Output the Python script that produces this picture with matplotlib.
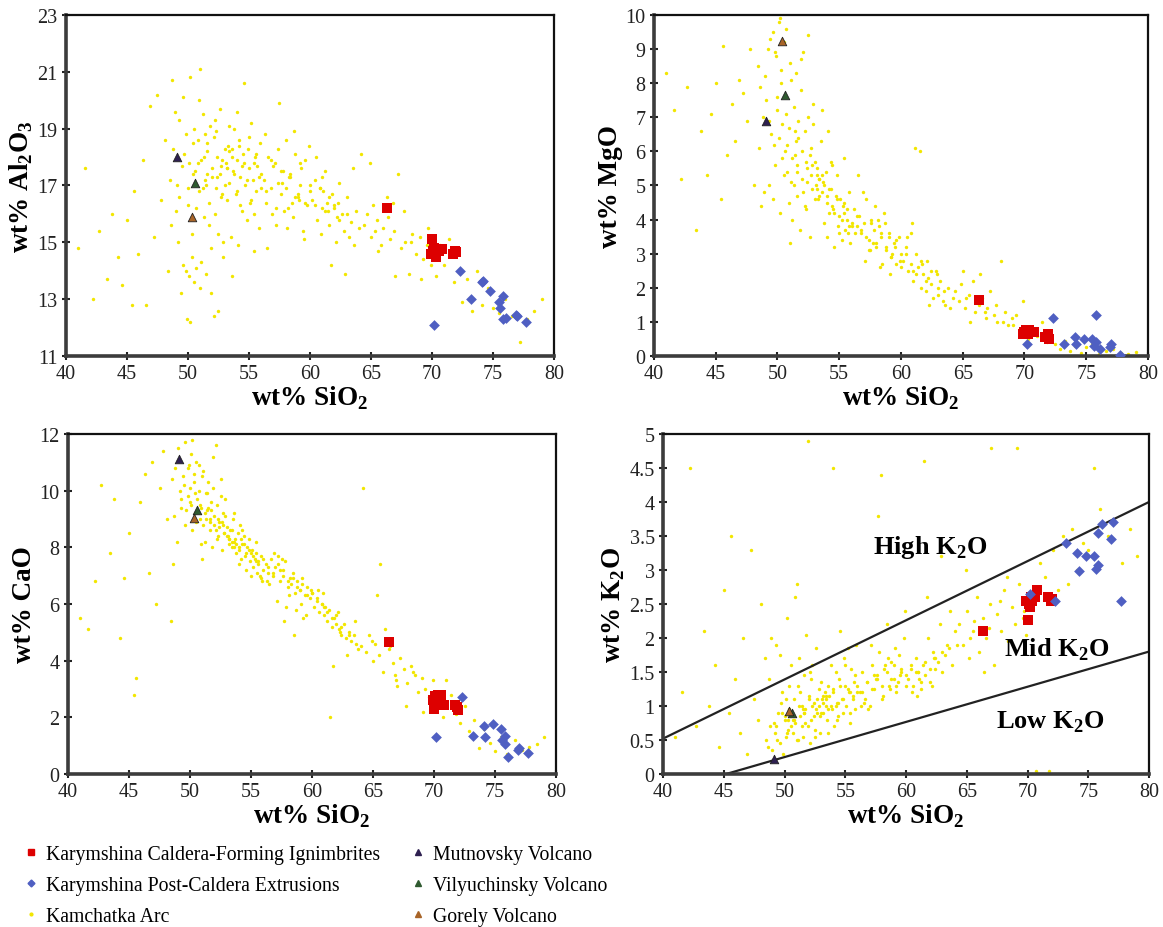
import matplotlib.pyplot as plt
from matplotlib.lines import Line2D

plt.rcParams['font.family'] = ['Liberation Serif', 'DejaVu Serif']
plt.rcParams['mathtext.fontset'] = 'custom'
plt.rcParams['mathtext.rm'] = 'Liberation Serif'
plt.rcParams['mathtext.bf'] = 'Liberation Serif:bold'

# Kamchatka Arc whole-rock analyses (wt%)
arc_sio2 = [
    41.0, 41.6, 42.2, 42.7, 43.4, 43.8, 44.3, 44.6, 45.0, 45.4,
    45.6, 45.9, 46.3, 46.6, 46.9, 47.2, 47.5, 47.8, 48.1, 48.4,
    48.5, 48.7, 48.8, 49.0, 49.2, 49.3, 49.5, 49.6, 49.8, 49.9,
    50.0, 50.1, 50.2, 50.3, 50.4, 50.5, 48.6, 49.1, 49.4, 49.7,
    50.0, 50.2, 50.4, 48.9, 49.3, 49.8, 50.1, 50.3, 49.6, 50.5,
    50.6, 50.7, 50.8, 50.9, 51.0, 51.1, 51.2, 51.3, 51.4, 51.5,
    51.6, 51.7, 51.8, 51.9, 52.0, 52.1, 52.2, 52.3, 52.4, 52.5,
    52.6, 52.7, 52.8, 52.9, 53.0, 50.7, 50.9, 51.1, 51.3, 51.5,
    51.7, 51.9, 52.1, 52.3, 52.5, 52.7, 52.9, 51.0, 51.6, 52.2,
    53.1, 53.2, 53.3, 53.4, 53.5, 53.6, 53.7, 53.8, 53.9, 54.0,
    54.1, 54.2, 54.3, 54.4, 54.5, 54.6, 54.7, 54.8, 54.9, 55.0,
    55.1, 55.2, 55.3, 55.4, 55.5, 55.6, 55.7, 55.8, 55.9, 56.0,
    53.2, 53.4, 53.6, 53.8, 54.0, 54.3, 54.6, 55.0, 55.4, 55.8,
    56.2, 56.4, 56.6, 56.8, 57.0, 57.2, 57.4, 57.6, 57.8, 58.0,
    58.2, 58.4, 58.6, 58.8, 59.0, 59.2, 59.4, 59.6, 59.8, 60.0,
    56.5, 57.1, 57.5, 57.9, 58.3, 58.7, 59.1, 59.5, 59.9, 56.9,
    57.7, 58.5, 59.3, 58.1, 56.3,
    60.2, 60.4, 60.6, 60.8, 61.0, 61.2, 61.4, 61.6, 61.8, 62.0,
    62.2, 62.4, 62.6, 62.8, 63.0, 63.2, 63.4, 63.6, 63.8, 64.0,
    60.5, 61.1, 61.7, 62.3, 62.9, 63.5, 60.9, 61.5, 62.1, 64.2,
    64.4, 64.7, 65.0, 65.2, 65.5, 65.8, 66.0, 66.3, 66.6, 66.9,
    67.2, 67.5, 67.8, 68.1, 68.4, 68.7, 69.0, 69.3, 69.6, 69.9,
    64.9, 65.6, 66.4, 67.0, 67.7, 68.3, 69.1, 69.7, 65.3, 66.8,
    70.3, 70.7, 71.0, 71.4, 71.8, 72.1, 72.5, 72.9, 73.3, 73.7,
    74.1, 74.6, 75.0, 75.5, 76.0, 76.6, 77.2, 77.8, 78.4, 79.0,
    50.8, 51.2, 51.6, 52.0, 52.4, 52.8, 53.2, 53.6, 54.0, 54.4,
    54.8, 55.2, 55.6, 56.0, 56.4, 56.8, 57.2, 57.6, 58.0, 58.4,
    58.8, 59.2, 59.6, 60.0, 60.4, 60.8, 61.2, 61.6, 62.0, 62.4,
    51.4, 52.6, 53.4, 53.0, 54.2, 55.4, 57.4, 59.0, 61.0, 63.0,
]
arc_al2o3 = [
    14.8, 17.6, 13.0, 15.4, 13.7, 16.0, 14.5, 13.5, 15.8, 12.8,
    16.8, 14.6, 17.9, 12.8, 19.8, 15.2, 20.2, 16.5, 18.6, 14.0,
    17.2, 20.7, 18.3, 16.1, 15.0, 19.3, 17.7, 14.2, 18.8, 12.3,
    16.9, 13.8, 20.8, 14.5, 17.4, 19.0, 15.6, 17.0, 13.2, 18.1,
    16.3, 12.2, 18.5, 19.6, 16.6, 14.0, 17.8, 15.3, 20.1, 13.6,
    17.5, 14.1, 18.6, 16.8, 13.4, 17.9, 19.5, 15.9, 17.2, 13.9,
    18.2, 16.4, 19.1, 14.8, 17.6, 12.4, 16.0, 18.9, 17.3, 15.3,
    19.7, 16.6, 17.9, 14.5, 18.3, 16.2, 20.0, 14.3, 18.0, 17.0,
    15.6, 13.2, 18.7, 16.9, 12.6, 17.7, 15.0, 21.1, 17.4, 19.3,
    17.8, 16.5, 18.4, 17.1, 15.2, 18.0, 17.5, 19.0, 16.7, 17.9,
    14.9, 18.6, 17.3, 16.1, 18.1, 20.6, 17.0, 15.8, 18.3, 17.6,
    16.4, 19.2, 17.2, 14.7, 18.0, 16.8, 17.7, 15.5, 18.5, 16.9,
    17.6, 18.2, 13.8, 17.4, 19.6, 16.3, 17.8, 18.7, 16.0, 17.3,
    17.2, 16.4, 18.0, 16.9, 17.7, 15.6, 18.3, 16.7, 17.5, 18.6,
    16.2, 17.4, 15.9, 18.1, 16.6, 17.0, 15.4, 17.9, 16.3, 16.8,
    14.8, 17.8, 19.9, 16.1, 17.3, 18.9, 16.5, 15.1, 18.4, 16.0,
    17.1, 16.4, 17.6, 15.5, 18.8,
    16.5, 17.2, 15.8, 16.9, 16.2, 17.5, 16.4, 15.6, 16.7, 16.3,
    15.9, 17.1, 16.0, 15.4, 16.6, 15.2, 15.7, 14.9, 16.1, 15.5,
    18.0, 16.8, 14.2, 16.4, 13.9, 17.6, 15.3, 16.1, 15.0, 18.1,
    15.6, 16.0, 15.2, 16.3, 15.8, 14.9, 15.5, 16.6, 15.1, 15.4,
    17.4, 14.8, 15.0, 13.9, 15.3, 14.6, 15.2, 14.4, 14.9, 14.2,
    17.8, 14.7, 15.9, 13.8, 16.1, 15.0, 13.7, 15.5, 15.4, 16.4,
    13.8, 14.9, 14.2, 15.1, 13.6, 14.6, 12.9, 13.7, 12.6, 14.0,
    12.8, 13.4, 12.7, 12.5, 13.0, 12.4, 11.5, 12.3, 12.6, 13.0,
    17.8, 16.9, 18.5, 17.3, 18.0, 16.7, 17.6, 18.3, 16.8, 17.7,
    17.2, 16.5, 18.1, 17.4, 16.8, 17.9, 16.2, 17.5, 16.9, 17.3,
    16.6, 17.8, 16.4, 17.0, 16.3, 16.9, 16.1, 16.6, 16.2, 15.8,
    18.8, 17.4, 19.1, 17.0, 18.4, 17.8, 17.1, 16.7, 17.3, 16.0,
]
arc_mgo = [
    8.3, 7.2, 5.2, 7.9, 3.7, 6.6, 5.3, 7.1, 8.0, 4.6,
    9.1, 5.9, 7.4, 6.3, 8.1, 7.7, 6.9, 9.0, 5.0, 8.5,
    6.1, 4.4, 7.0, 8.2, 9.0, 5.0, 6.5, 9.5, 5.6, 8.8,
    7.2, 9.8, 4.2, 8.4, 6.8, 5.3, 7.9, 7.5, 9.3, 6.2,
    7.6, 9.9, 5.8, 4.8, 6.9, 8.9, 6.4, 8.0, 4.6, 9.2,
    6.0, 9.6, 5.4, 6.7, 8.6, 5.1, 4.0, 7.3, 5.9, 8.3,
    4.7, 6.4, 3.7, 7.8, 5.2, 8.9, 6.6, 4.3, 5.5, 7.0,
    3.5, 6.1, 4.9, 7.4, 4.6, 7.1, 4.5, 8.1, 5.0, 6.3,
    6.9, 8.7, 4.8, 5.7, 9.4, 5.3, 6.8, 3.3, 5.6, 4.4,
    5.0, 5.5, 4.6, 5.2, 6.3, 4.8, 5.1, 3.9, 5.4, 4.5,
    6.6, 4.2, 4.9, 5.6, 4.3, 3.2, 4.7, 5.3, 3.8, 4.1,
    4.6, 3.4, 4.4, 5.8, 3.7, 4.0, 3.6, 4.8, 3.3, 3.9,
    5.3, 4.7, 7.2, 5.0, 3.5, 5.7, 4.2, 3.6, 4.5, 3.8,
    4.3, 3.8, 4.1, 3.6, 3.9, 4.6, 3.4, 4.0, 3.7, 3.2,
    3.8, 3.5, 4.2, 3.1, 3.6, 2.9, 3.3, 2.7, 3.5, 3.0,
    5.3, 2.8, 3.1, 4.4, 2.6, 3.9, 2.4, 3.2, 2.8, 4.8,
    3.3, 2.7, 3.0, 4.0, 3.6,
    2.8, 3.2, 2.5, 3.6, 2.2, 3.0, 2.6, 2.0, 2.4, 1.9,
    2.3, 2.1, 1.7, 2.5, 1.8, 2.2, 1.6, 1.5, 2.0, 1.4,
    3.5, 6.1, 2.7, 1.5, 2.4, 1.9, 3.9, 6.0, 2.8, 1.7,
    1.9, 1.6, 2.5, 1.4, 1.8, 2.2, 1.3, 1.5, 1.7, 1.1,
    1.9, 1.2, 1.0, 2.8, 1.3, 0.9, 1.1, 1.2, 0.8, 1.6,
    2.1, 1.0, 2.4, 1.4, 1.5, 1.0, 0.9, 0.6, 1.7, 1.3,
    0.5, 0.8, 0.6, 1.0, 0.4, 0.7, 0.35, 0.2, 0.45, 0.15,
    0.3, 0.1, 0.25, 0.35, 0.05, 0.15, 0.2, 0.1, 0.05, 0.12,
    6.2, 5.8, 5.4, 6.0, 5.1, 5.6, 4.9, 5.3, 4.7, 4.4,
    4.6, 4.0, 4.3, 3.8, 4.1, 3.7, 3.5, 3.9, 3.3, 3.6,
    3.2, 2.9, 3.4, 2.6, 3.0, 2.7, 2.4, 2.8, 2.2, 2.5,
    6.6, 5.9, 5.2, 5.7, 4.9, 4.2, 3.1, 3.5, 2.5, 2.0,
]
arc_cao = [
    5.5, 5.1, 6.8, 10.2, 7.8, 9.7, 4.8, 6.9, 8.5, 2.8,
    3.4, 9.6, 10.6, 7.1, 11.0, 6.0, 10.1, 11.4, 9.0, 5.4,
    10.4, 9.1, 10.8, 11.5, 10.0, 9.4, 10.2, 11.7, 9.8, 10.9,
    9.6, 11.3, 8.6, 10.6, 9.9, 8.9, 7.4, 11.1, 10.5, 9.3,
    10.1, 11.8, 9.2, 8.2, 9.7, 10.8, 9.5, 10.3, 8.8, 11.0,
    9.7, 10.9, 9.0, 9.4, 10.5, 8.8, 8.2, 9.9, 9.3, 10.3,
    8.6, 9.6, 8.0, 10.1, 9.1, 11.6, 9.5, 8.4, 8.9, 9.8,
    7.9, 9.2, 8.5, 9.7, 8.7, 10.0, 8.1, 10.7, 9.0, 9.4,
    9.3, 11.2, 8.6, 9.0, 10.4, 8.8, 9.1, 7.6, 8.9, 8.3,
    8.4, 8.1, 8.6, 8.2, 9.0, 8.0, 8.3, 7.8, 8.5, 7.9,
    8.8, 7.6, 8.1, 8.4, 7.7, 7.2, 8.0, 8.3, 7.5, 7.8,
    7.9, 7.3, 7.6, 8.2, 7.1, 7.4, 7.0, 7.7, 6.8, 7.2,
    8.3, 8.0, 9.2, 8.1, 7.4, 8.6, 7.8, 7.0, 7.5, 6.9,
    7.4, 7.1, 7.6, 7.0, 7.3, 7.7, 6.8, 7.2, 7.5, 6.6,
    6.9, 7.1, 6.4, 6.8, 6.5, 6.9, 6.3, 6.6, 6.2, 6.4,
    6.7, 6.1, 7.6, 5.9, 6.7, 5.8, 6.0, 5.6, 6.5, 7.8,
    5.4, 4.9, 5.5, 6.3, 6.8,
    5.9, 6.2, 5.7, 6.0, 5.6, 5.4, 5.8, 5.2, 5.5, 5.3,
    5.1, 4.9, 5.3, 4.8, 5.0, 4.7, 4.9, 4.6, 4.4, 4.5,
    6.5, 5.9, 3.8, 5.0, 4.2, 5.4, 6.4, 2.0, 5.7, 10.1,
    4.3, 4.9, 4.0, 4.6, 4.2, 3.6, 5.1, 4.4, 3.9, 3.3,
    4.1, 3.7, 3.2, 3.8, 3.5, 2.9, 3.4, 3.0, 2.7, 3.3,
    4.7, 7.4, 4.5, 3.1, 2.4, 3.6, 2.2, 2.6, 6.3, 3.5,
    2.5, 2.0, 3.3, 2.8, 2.1, 1.8, 2.4, 1.5, 1.9, 0.9,
    1.6, 1.1, 0.8, 1.3, 0.7, 1.2, 0.85, 0.95, 1.05, 1.3,
    9.5, 9.2, 9.0, 8.8, 8.7, 8.5, 8.3, 8.2, 8.0, 8.1,
    7.9, 7.7, 7.5, 7.6, 7.3, 7.1, 7.4, 7.0, 6.8, 6.9,
    6.6, 6.7, 6.3, 6.4, 6.1, 6.0, 5.7, 5.5, 5.6, 5.2,
    9.9, 8.9, 8.6, 8.4, 8.3, 7.8, 7.2, 6.5, 5.9, 4.9,
]
arc_k2o = [
    0.55, 1.2, 4.5, 0.7, 2.1, 1.0, 1.6, 0.4, 2.7, 0.9,
    3.5, 1.4, 0.6, 2.0, 0.3, 3.3, 1.1, 0.8, 2.5, 1.7,
    0.5, 1.4, 0.7, 0.35, 0.6, 1.9, 0.9, 0.45, 1.2, 0.3,
    0.8, 0.55, 2.3, 0.65, 0.95, 1.6, 0.4, 0.75, 0.5, 1.05,
    0.85, 0.6, 1.3, 2.0, 0.7, 0.9, 1.1, 0.8, 1.75, 0.7,
    0.9, 0.6, 1.1, 0.75, 0.5, 1.3, 1.7, 0.85, 1.0, 0.55,
    1.45, 0.95, 2.05, 0.7, 1.15, 0.45, 0.8, 1.6, 1.05, 0.65,
    1.85, 0.9, 1.25, 0.6, 1.35, 0.8, 2.6, 0.5, 1.2, 0.95,
    0.75, 4.9, 1.5, 1.0, 0.55, 1.1, 0.85, 2.8, 0.9, 1.4,
    1.1, 0.9, 1.2, 1.0, 0.8, 1.3, 1.15, 1.6, 0.95, 1.25,
    0.7, 1.5, 1.05, 0.85, 1.4, 2.1, 1.1, 0.9, 1.7, 1.3,
    1.0, 1.85, 1.2, 0.75, 1.55, 1.1, 1.35, 0.95, 1.9, 1.2,
    1.05, 1.15, 0.6, 1.0, 4.5, 0.8, 1.3, 1.6, 0.9, 1.45,
    1.2, 1.5, 1.1, 1.35, 1.0, 1.6, 1.25, 1.45, 1.8, 1.1,
    1.55, 2.2, 1.3, 1.65, 1.4, 1.2, 1.75, 1.5, 2.0, 1.3,
    1.05, 1.9, 1.4, 4.4, 1.6, 1.25, 1.85, 1.45, 2.4, 0.95,
    3.8, 1.7, 1.35, 1.15, 1.0,
    1.4, 1.55, 1.3, 1.7, 1.5, 1.25, 1.6, 1.45, 2.0, 1.35,
    1.8, 1.55, 1.65, 2.2, 1.5, 1.75, 1.9, 2.4, 1.6, 2.1,
    1.2, 1.4, 2.6, 1.7, 3.2, 1.85, 1.15, 4.6, 1.3, 1.9,
    2.2, 1.9, 2.4, 1.7, 2.1, 2.6, 1.8, 2.3, 2.0, 2.5,
    1.6, 2.35, 2.1, 2.7, 1.95, 2.45, 2.2, 2.8, 2.3, 2.05,
    3.0, 2.25, 1.5, 4.8, 2.55, 2.9, 4.8, 2.4, 2.0, 2.15,
    2.6, 0.05, 3.1, 2.9, 0.05, 3.3, 2.7, 3.5, 2.8, 3.6,
    3.0, 3.4, 3.3, 4.5, 3.9, 3.5, 3.7, 3.1, 3.6, 3.2,
    0.8, 1.0, 0.9, 1.1, 0.85, 1.0, 1.15, 0.95, 1.2, 1.05,
    1.1, 1.25, 1.15, 1.3, 1.2, 1.35, 1.25, 1.4, 1.3, 1.5,
    1.4, 1.3, 1.55, 1.45, 1.6, 1.5, 1.35, 1.65, 1.55, 1.7,
    0.7, 0.95, 1.1, 0.9, 1.0, 1.2, 1.45, 1.6, 1.5, 1.8,
]

# Karymshina caldera-forming ignimbrites
ign_sio2 = [66.3, 69.9, 70.0, 70.1, 70.2, 70.3, 70.4, 70.6, 70.8, 71.7, 71.9, 72.0]
ign_al2o3 = [16.2, 14.6, 15.1, 14.7, 14.8, 14.5, 14.7, 14.7, 14.75, 14.6, 14.7, 14.65]
ign_mgo = [1.65, 0.65, 0.7, 0.75, 0.7, 0.65, 0.75, 0.7, 0.7, 0.55, 0.65, 0.5]
ign_cao = [4.65, 2.6, 2.3, 2.75, 2.5, 2.8, 2.65, 2.8, 2.45, 2.45, 2.35, 2.25]
ign_k2o = [2.1, 2.55, 2.27, 2.5, 2.45, 2.6, 2.55, 2.6, 2.7, 2.6, 2.55, 2.57]

# Karymshina post-caldera extrusions
ext_sio2 = [70.2, 72.3, 73.2, 74.1, 74.2, 74.8, 75.5, 75.6, 75.8, 75.8, 76.1, 76.9, 77.0, 77.7]
ext_al2o3 = [12.1, 14.0, 13.0, 13.6, 13.65, 13.3, 12.9, 12.7, 13.1, 12.3, 12.35, 12.45, 12.4, 12.2]
ext_mgo = [0.35, 1.1, 0.35, 0.55, 0.35, 0.5, 0.5, 0.3, 1.2, 0.4, 0.2, 0.25, 0.35, 0.02]
ext_cao = [1.3, 2.7, 1.35, 1.7, 1.3, 1.75, 1.6, 1.2, 1.35, 1.05, 0.6, 0.85, 0.9, 0.75]
ext_k2o = [2.65, 2.55, 3.4, 3.25, 2.98, 3.2, 3.2, 3.02, 3.08, 3.55, 3.68, 3.45, 3.7, 2.55]

# reference volcanoes: SiO2 and [Al2O3, MgO, CaO, K2O]
mutnovsky_sio2 = 49.1
mutnovsky_oxides = [18.0, 6.9, 11.1, 0.22]
vilyuchinsky_sio2 = 50.6
vilyuchinsky_oxides = [17.1, 7.65, 9.3, 0.9]
gorely_sio2 = 50.35
gorely_oxides = [15.9, 9.25, 9.05, 0.93]

# K2O series boundaries
high_mid_si = [40, 80]
high_mid_k = [0.52, 4.0]
mid_low_si = [45.2, 80]
mid_low_k = [0.0, 1.8]

RED = '#dd0000'
BLUE = '#4f5fc2'
YELLOW = '#f2e600'
MUT = '#2e2050'
VIL = '#2f5a30'
GOR = '#a86428'

fig = plt.figure(figsize=(11.63, 9.28), dpi=100)

panels = [
    ([0.0567, 0.6153, 0.4196, 0.3675], arc_al2o3, ign_al2o3, ext_al2o3, 0,
     (11, 23), list(range(11, 24, 2)), r'wt% Al$_\mathbf{2}$O$_\mathbf{3}$'),
    ([0.5623, 0.6153, 0.4248, 0.3675], arc_mgo, ign_mgo, ext_mgo, 1,
     (0, 10), list(range(0, 11)), 'wt% MgO'),
    ([0.0585, 0.1649, 0.4196, 0.3664], arc_cao, ign_cao, ext_cao, 2,
     (0, 12), list(range(0, 13, 2)), 'wt% CaO'),
    ([0.5701, 0.1649, 0.4179, 0.3664], arc_k2o, ign_k2o, ext_k2o, 3,
     (0, 5), [i * 0.5 for i in range(11)], r'wt% K$_\mathbf{2}$O'),
]

for rect, arc_y, ign_y, ext_y, k, ylim, yticks, ylabel in panels:
    ax = fig.add_axes(rect)
    ax.scatter(arc_sio2, arc_y, s=6, color=YELLOW, linewidths=0, zorder=2)
    ax.scatter(ign_sio2, ign_y, s=55, marker='s', color=RED, linewidths=0, zorder=3)
    ax.scatter(ext_sio2, ext_y, s=30, marker='D', color=BLUE, linewidths=0, zorder=3)
    ax.scatter([mutnovsky_sio2], [mutnovsky_oxides[k]], s=38, marker='^',
               color=MUT, edgecolors='#222222', linewidths=0.6, zorder=4)
    ax.scatter([vilyuchinsky_sio2], [vilyuchinsky_oxides[k]], s=38, marker='^',
               color=VIL, edgecolors='#222222', linewidths=0.6, zorder=4)
    ax.scatter([gorely_sio2], [gorely_oxides[k]], s=38, marker='^',
               color=GOR, edgecolors='#222222', linewidths=0.6, zorder=4)

    ax.set_xlim(40, 80)
    ax.set_ylim(*ylim)
    ax.set_xticks(range(40, 81, 5))
    ax.set_yticks(yticks)
    ax.set_yticklabels(['%g' % t for t in yticks])
    ax.tick_params(direction='inout', length=6, width=1.5, labelsize=14.5,
                   colors='#222222')
    ax.tick_params(axis='x', pad=3)
    ax.tick_params(axis='y', pad=3)
    for side in ('left', 'bottom'):
        ax.spines[side].set_linewidth(2.6)
        ax.spines[side].set_color('#3c3c3c')
    for side in ('top', 'right'):
        ax.spines[side].set_linewidth(1.6)
        ax.spines[side].set_color('#111111')
    ax.set_xlabel(r'wt% SiO$_\mathbf{2}$', fontsize=19.5, fontweight='bold', labelpad=0)
    ax.set_ylabel(ylabel, fontsize=19.5, fontweight='bold', labelpad=2)

    if k == 3:
        ax.plot(high_mid_si, high_mid_k, color='#222222', lw=1.6, zorder=2.5)
        ax.plot(mid_low_si, mid_low_k, color='#222222', lw=1.6, zorder=2.5)
        ax.text(62.0, 3.34, r'High K$_\mathbf{2}$O', fontsize=19, fontweight='bold',
                ha='center', va='center')
        ax.text(72.4, 1.84, r'Mid K$_\mathbf{2}$O', fontsize=19, fontweight='bold',
                ha='center', va='center')
        ax.text(71.9, 0.78, r'Low K$_\mathbf{2}$O', fontsize=19, fontweight='bold',
                ha='center', va='center')

handles = [
    Line2D([], [], ls='none', marker='s', ms=4, color=RED),
    Line2D([], [], ls='none', marker='D', ms=3.5, color=BLUE),
    Line2D([], [], ls='none', marker='o', ms=2, color=YELLOW),
    Line2D([], [], ls='none', marker='^', ms=4, color=MUT),
    Line2D([], [], ls='none', marker='^', ms=4, color=VIL),
    Line2D([], [], ls='none', marker='^', ms=4, color=GOR),
]
labels = [
    'Karymshina Caldera-Forming Ignimbrites',
    'Karymshina Post-Caldera Extrusions',
    'Kamchatka Arc',
    'Mutnovsky Volcano',
    'Vilyuchinsky Volcano',
    'Gorely Volcano',
]
fig.legend(handles, labels, ncol=2, loc='upper left', bbox_to_anchor=(0.013, 0.097),
           frameon=False, fontsize=14.2, handlelength=0.8, handletextpad=0.35,
           columnspacing=1.55, labelspacing=0.62, borderaxespad=0)

fig.savefig('out.png', dpi=100, facecolor='white')
